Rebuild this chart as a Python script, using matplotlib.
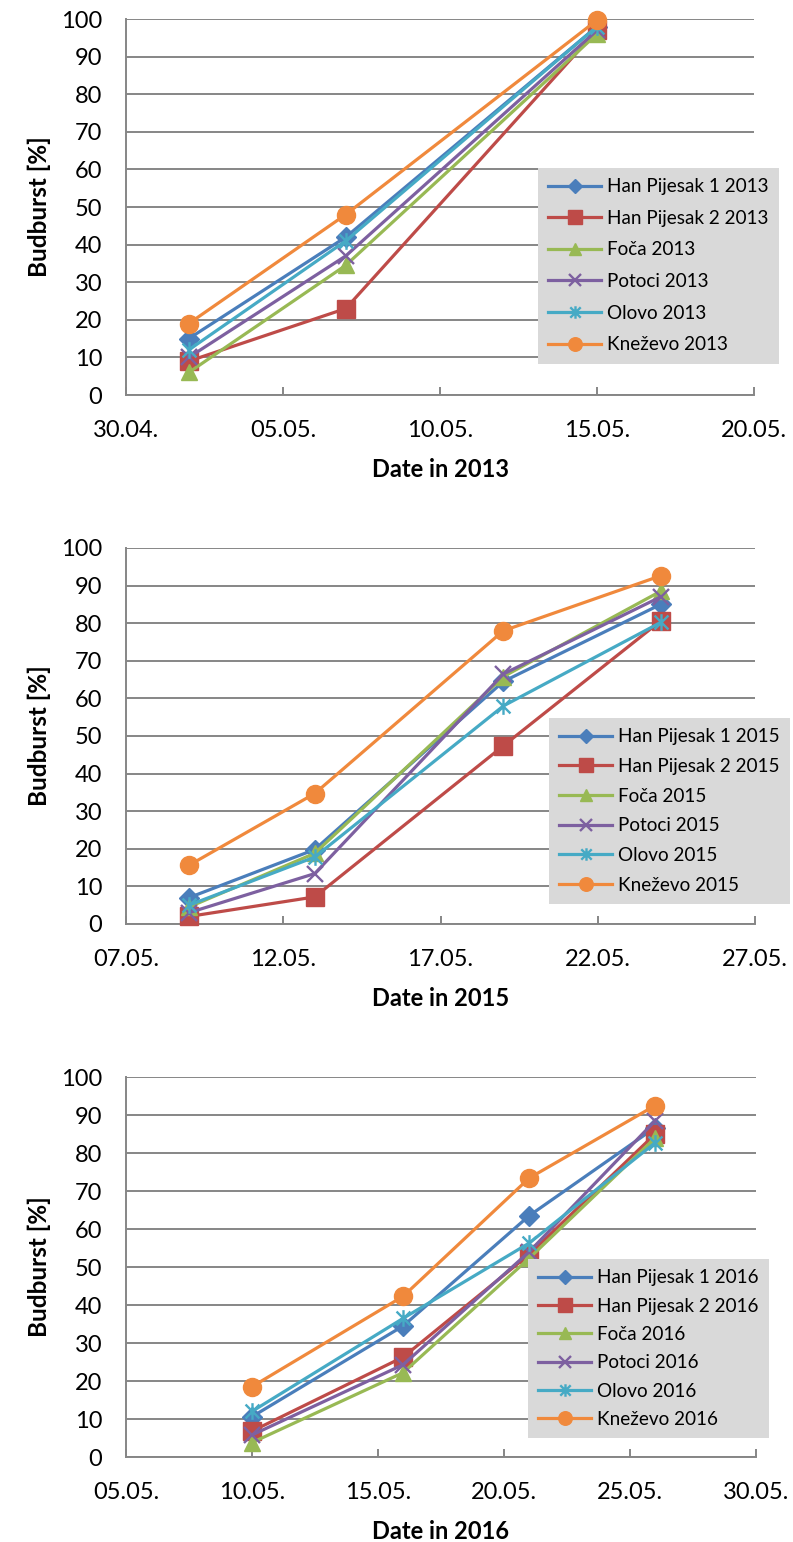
import matplotlib
matplotlib.use("Agg")
import matplotlib.pyplot as plt
import matplotlib.dates as mdates
from matplotlib.path import Path
import numpy as np

plt.rcParams['font.family'] = ['Lato', 'DejaVu Sans']

# ---- data ----
sites = ["Han Pijesak 1", "Han Pijesak 2", "Foča", "Potoci", "Olovo", "Kneževo"]

dates_2013 = ["2013-05-02", "2013-05-07", "2013-05-15"]
hp1_2013 = [15.0, 42.0, 98.0]
hp2_2013 = [9.0, 23.0, 97.0]
foca_2013 = [6.0, 34.5, 96.0]
potoci_2013 = [10.0, 37.0, 97.0]
olovo_2013 = [12.0, 41.0, 98.0]
knezevo_2013 = [19.0, 48.0, 99.7]

dates_2015 = ["2015-05-09", "2015-05-13", "2015-05-19", "2015-05-24"]
hp1_2015 = [7.0, 19.8, 64.5, 85.0]
hp2_2015 = [2.0, 7.2, 47.4, 80.6]
foca_2015 = [4.5, 18.8, 65.8, 88.5]
potoci_2015 = [3.0, 13.4, 66.5, 87.0]
olovo_2015 = [5.0, 17.8, 58.0, 80.2]
knezevo_2015 = [15.6, 34.7, 78.0, 92.6]

dates_2016 = ["2016-05-10", "2016-05-16", "2016-05-21", "2016-05-26"]
hp1_2016 = [10.6, 34.5, 63.5, 86.7]
hp2_2016 = [6.8, 26.3, 53.3, 85.0]
foca_2016 = [3.8, 22.2, 52.3, 84.0]
potoci_2016 = [5.8, 24.3, 54.0, 88.5]
olovo_2016 = [12.0, 36.5, 56.3, 82.7]
knezevo_2016 = [18.5, 42.3, 73.4, 92.5]

xlim_2013 = ["2013-04-30", "2013-05-20"]
xlim_2015 = ["2015-05-07", "2015-05-27"]
xlim_2016 = ["2016-05-05", "2016-05-30"]

# ---- styling ----
colors = ["#4A7EBB", "#BE4B48", "#98B954", "#7D60A0", "#46AAC5", "#F0893C"]

# Excel-style asterisk marker: an "x" crossed by a vertical stroke
star_path = Path(
    [(-0.5, -0.5), (0.5, 0.5), (-0.5, 0.5), (0.5, -0.5), (0, -0.6), (0, 0.6)],
    [Path.MOVETO, Path.LINETO, Path.MOVETO, Path.LINETO, Path.MOVETO, Path.LINETO],
)
markers = ["D", "s", "^", "x", star_path, "o"]
marker_sizes = [10, 12.5, 12, 11, 12, 13]
filled_markers = [True, True, True, False, False, True]

W, H = 793, 1542
fig = plt.figure(figsize=(W / 100, H / 100), dpi=100)


def fig_rect(left, top, right, bottom):
    return [left / W, 1 - bottom / H, (right - left) / W, (bottom - top) / H]


panels = [
    dict(rect=fig_rect(126, 19, 754, 395), dates=dates_2013, xlim=xlim_2013,
         series=[hp1_2013, hp2_2013, foca_2013, potoci_2013, olovo_2013, knezevo_2013],
         year="2013", leg=(538, 168), spacing=0.77),
    dict(rect=fig_rect(126, 548, 755, 924), dates=dates_2015, xlim=xlim_2015,
         series=[hp1_2015, hp2_2015, foca_2015, potoci_2015, olovo_2015, knezevo_2015],
         year="2015", leg=(549, 718), spacing=0.67),
    dict(rect=fig_rect(126, 1077, 756, 1457), dates=dates_2016, xlim=xlim_2016,
         series=[hp1_2016, hp2_2016, foca_2016, potoci_2016, olovo_2016, knezevo_2016],
         year="2016", leg=(528, 1259), spacing=0.6),
]

grid_color = "#868686"

for p in panels:
    ax = fig.add_axes(p["rect"])
    x = mdates.date2num(np.array(p["dates"], dtype="datetime64[D]"))
    for i, (name, vals) in enumerate(zip(sites, p["series"])):
        filled = filled_markers[i]
        ax.plot(x, vals, color=colors[i], lw=2.3, marker=markers[i],
                ms=marker_sizes[i],
                markerfacecolor=colors[i] if filled else "none",
                markeredgecolor=colors[i],
                markeredgewidth=1.0 if filled else 1.7,
                label=f"{name} {p['year']}", zorder=3 + i, clip_on=False)

    lo, hi = mdates.date2num(np.array(p["xlim"], dtype="datetime64[D]"))
    ax.set_xlim(lo, hi)
    ax.set_ylim(0, 100)
    ax.set_yticks(np.arange(0, 101, 10))
    ax.set_xticks(np.arange(lo, hi + 0.1, 5))
    ax.xaxis.set_major_formatter(mdates.DateFormatter("%d.%m."))

    ax.grid(axis="y", color=grid_color, lw=1.4, zorder=0)
    ax.set_axisbelow(True)
    for s in ("top", "right"):
        ax.spines[s].set_visible(False)
    for s in ("left", "bottom"):
        ax.spines[s].set_color(grid_color)
        ax.spines[s].set_linewidth(1.4)
    ax.tick_params(axis="y", length=0, pad=17, labelsize=17, colors="black")
    ax.tick_params(axis="x", direction="in", length=6, width=1.4, color=grid_color,
                   pad=18, labelsize=17)

    ax.set_ylabel("Budburst [%]", fontsize=17.5, fontweight="bold", labelpad=7)
    ax.set_xlabel(f"Date in {p['year']}", fontsize=17, fontweight="bold", labelpad=12)

    lx, ly = p["leg"]
    leg = ax.legend(loc="upper left", bbox_to_anchor=(lx / W, 1 - ly / H),
                    bbox_transform=fig.transFigure, borderaxespad=0,
                    frameon=True, fancybox=False, fontsize=13.6,
                    labelspacing=p["spacing"], handlelength=2.8, handletextpad=0.3,
                    borderpad=0.55, markerscale=0.75)
    leg.get_frame().set_facecolor("#D9D9D9")
    leg.get_frame().set_edgecolor("none")
    leg.get_frame().set_alpha(1)
    leg.set_zorder(20)

fig.savefig("out.png", dpi=100)
